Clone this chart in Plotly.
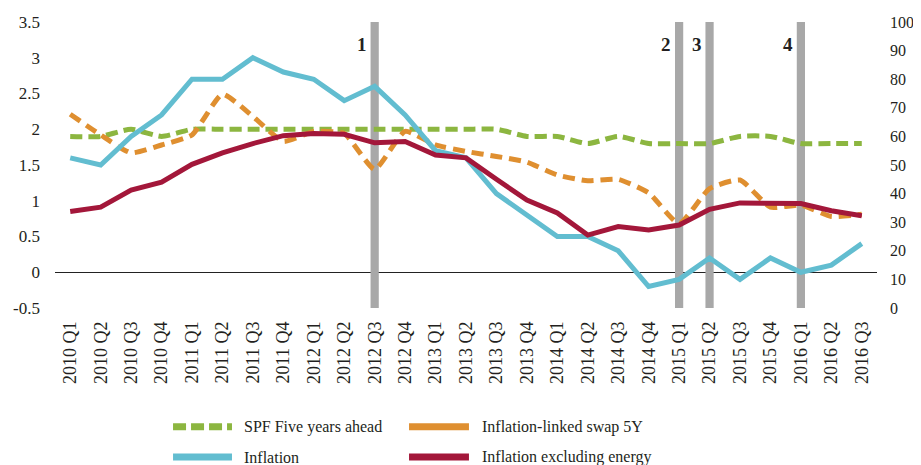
import plotly.graph_objects as go

quarters = ["2010 Q1", "2010 Q2", "2010 Q3", "2010 Q4", "2011 Q1", "2011 Q2", "2011 Q3", "2011 Q4",
            "2012 Q1", "2012 Q2", "2012 Q3", "2012 Q4", "2013 Q1", "2013 Q2", "2013 Q3", "2013 Q4",
            "2014 Q1", "2014 Q2", "2014 Q3", "2014 Q4", "2015 Q1", "2015 Q2", "2015 Q3", "2015 Q4",
            "2016 Q1", "2016 Q2", "2016 Q3"]

spf_5y = [1.9, 1.9, 2.0, 1.9, 2.0, 2.0, 2.0, 2.0, 2.0, 2.0, 2.0, 2.0, 2.0, 2.0, 2.0, 1.9,
          1.9, 1.8, 1.9, 1.8, 1.8, 1.8, 1.9, 1.9, 1.8, 1.8, 1.8]
swap_5y = [2.21, 1.92, 1.67, 1.78, 1.92, 2.49, 2.18, 1.83, 1.97, 1.94, 1.44, 1.97, 1.78, 1.69,
           1.62, 1.54, 1.36, 1.28, 1.30, 1.11, 0.68, 1.17, 1.29, 0.91, 0.94, 0.78, 0.81]
inflation = [1.6, 1.5, 1.9, 2.2, 2.7, 2.7, 3.0, 2.8, 2.7, 2.4, 2.6, 2.2, 1.7, 1.6,
             1.1, 0.8, 0.5, 0.5, 0.3, -0.2, -0.1, 0.2, -0.1, 0.2, 0.0, 0.1, 0.4]
infl_ex_energy = [0.85, 0.91, 1.15, 1.26, 1.51, 1.67, 1.80, 1.91, 1.94, 1.93, 1.81, 1.83, 1.64, 1.60,
                  1.30, 1.01, 0.83, 0.52, 0.64, 0.59, 0.66, 0.88, 0.97, 0.96, 0.96, 0.86, 0.79]

event_quarters = ["2012 Q3", "2015 Q1", "2015 Q2", "2016 Q1"]
event_values = [100, 100, 100, 100]
event_labels = ["1", "2", "3", "4"]

series_names = ["SPF Five years ahead", "Inflation-linked swap 5Y", "Inflation", "Inflation excluding energy"]
GREEN, ORANGE, BLUE, RED, GREY = "#8cb640", "#df8f30", "#62bdd0", "#a3173a", "#a8a8a8"
FONT = "Liberation Serif"
TXT = "#231f20"

fig = go.Figure()

# event bars on the right-hand (0-100) axis
fig.add_trace(go.Bar(x=event_quarters, y=event_values, width=0.27, marker_color=GREY,
                     marker_line_width=0, yaxis="y", showlegend=False, hoverinfo="skip"))

fig.add_trace(go.Scatter(x=quarters, y=spf_5y, mode="lines", yaxis="y2", name=series_names[0],
                         line=dict(color=GREEN, width=5, dash="12px,6px", shape="spline", smoothing=0.6),
                         showlegend=False))
fig.add_trace(go.Scatter(x=quarters, y=swap_5y, mode="lines", yaxis="y2", name=series_names[1],
                         line=dict(color=ORANGE, width=5, dash="12px,7px", shape="spline", smoothing=0.5),
                         showlegend=False))
fig.add_trace(go.Scatter(x=quarters, y=inflation, mode="lines", yaxis="y2", name=series_names[2],
                         line=dict(color=BLUE, width=5), showlegend=False))
fig.add_trace(go.Scatter(x=quarters, y=infl_ex_energy, mode="lines", yaxis="y2", name=series_names[3],
                         line=dict(color=RED, width=5), showlegend=False))

annotations = []
for q, lab in zip(event_quarters, event_labels):
    annotations.append(dict(x=q, xref="x", y=0.923, yref="paper", yanchor="middle",
                            text="<b>%s</b>" % lab, showarrow=False, xshift=-13,
                            font=dict(family=FONT, size=19, color=TXT)))

# custom legend (2 x 2)
legend_items = [
    (series_names[0], GREEN, "13px,5px", 0.1436, 0.2153, 0.2275, -0.415),
    (series_names[1], ORANGE, "solid", 0.4307, 0.5036, 0.517, -0.415),
    (series_names[2], BLUE, "solid", 0.1436, 0.2153, 0.2275, -0.521),
    (series_names[3], RED, "solid", 0.4307, 0.5036, 0.517, -0.521),
]
shapes = []
for name, col, dash, x0, x1, xt, yy in legend_items:
    shapes.append(dict(type="line", xref="paper", yref="paper", x0=x0, x1=x1, y0=yy, y1=yy,
                       line=dict(color=col, width=7, dash=dash)))
    annotations.append(dict(x=xt, y=yy, xref="paper", yref="paper", text=name, showarrow=False,
                            xanchor="left", yanchor="middle",
                            font=dict(family=FONT, size=16, color=TXT)))

fig.update_layout(
    width=913, height=457,
    margin=dict(l=47, r=44, t=14, b=157, autoexpand=False),
    paper_bgcolor="white", plot_bgcolor="white",
    font=dict(family=FONT, size=17, color=TXT),
    showlegend=False,
    xaxis=dict(type="category", categoryorder="array", categoryarray=quarters,
               range=[-0.5, 26.5], tickangle=-90, showgrid=False, showline=False,
               ticks="", tickfont=dict(size=18), ticklabelstandoff=9, automargin=False),
    yaxis=dict(range=[0, 100], side="right", tickvals=list(range(0, 101, 10)),
               showgrid=False, zeroline=False, showline=False, ticks="",
               tickfont=dict(size=16), ticklabelstandoff=12, automargin=False),
    yaxis2=dict(range=[-0.5, 3.5], side="left", overlaying="y", anchor="x",
                tickvals=[-0.5, 0, 0.5, 1, 1.5, 2, 2.5, 3, 3.5],
                ticktext=["-0.5", "0", "0.5", "1", "1.5", "2", "2.5", "3", "3.5"],
                showgrid=False, zeroline=True, zerolinecolor="#222222", zerolinewidth=1,
                showline=False, ticks="", tickfont=dict(size=17), ticklabelstandoff=14,
                automargin=False),
    shapes=shapes,
    annotations=annotations,
)

fig.write_html("out.html")
